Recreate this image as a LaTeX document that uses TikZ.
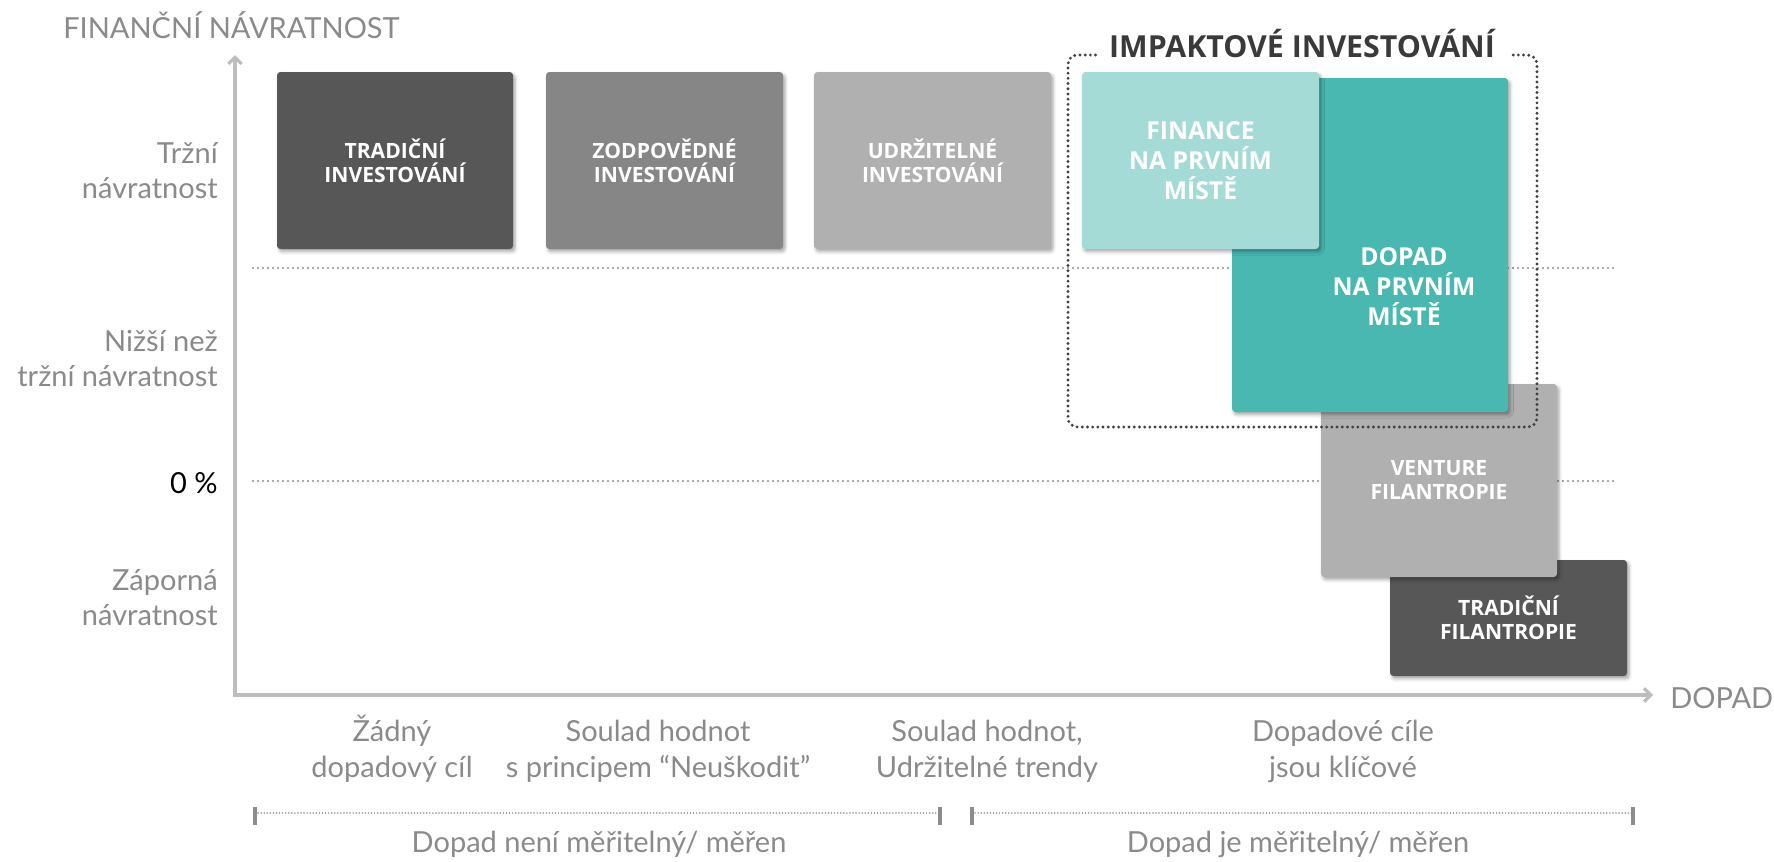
\documentclass[tikz,border=0pt]{standalone}
\usepackage{fontspec}
\setmainfont{Lato}
\newfontfamily\boxfont{Open Sans}
\usetikzlibrary{arrows.meta,shadows.blur}

\definecolor{darkbox}{HTML}{575757}
\definecolor{midbox}{HTML}{868686}
\definecolor{lightbox}{HTML}{B0B0B0}
\definecolor{finteal}{HTML}{A5DBD7}
\definecolor{impteal}{HTML}{48B8B1}
\definecolor{axisgray}{HTML}{BDBDBD}
\definecolor{labelgray}{HTML}{8A8A8A}
\definecolor{gridgray}{HTML}{8C8C8C}
\definecolor{framegray}{HTML}{404040}
\definecolor{titlegray}{HTML}{3A3A3A}

\begin{document}
\begin{tikzpicture}[x=0.75pt,y=-0.75pt,
  boxtext/.style={align=center, text=white, inner sep=0pt,
    font=\boxfont\bfseries\fontsize{15.8}{18}\selectfont},
  bigtext/.style={boxtext, font=\boxfont\bfseries\fontsize{18.5}{22.5}\selectfont},
  box/.style={boxtext, rectangle, rounded corners=2.5pt,
    blur shadow={shadow xshift=1.5pt, shadow yshift=-2pt, shadow blur radius=2.5pt, shadow opacity=35}},
  ylabel/.style={anchor=base east, align=right, inner sep=0pt, text=labelgray,
    font=\fontsize{21.75}{26.25}\selectfont},
  xlabel/.style={anchor=base, align=center, inner sep=0pt, text=labelgray,
    font=\fontsize{21.75}{27}\selectfont},
  axisline/.style={draw=axisgray, line width=2.5pt, {Straight Barb[length=5pt,width=10pt]}-{Straight Barb[length=5pt,width=10pt]}},
  gridline/.style={draw=gridgray, line width=1.7pt, line cap=round, dash pattern=on 0pt off 3.75pt},
  impframe/.style={draw=framegray, line width=2.4pt, line cap=round, dash pattern=on 0pt off 3.9pt, rounded corners=7pt},
  spanline/.style={draw=gridgray, line width=1.3pt, line cap=round, dash pattern=on 0pt off 2.3pt},
  tickmark/.style={draw=gridgray, line width=2.3pt}]
\useasboundingbox (0,0) rectangle (1774,861);

% axes
\coordinate (origin) at (235,695);
\coordinate (ytip) at (235,55);
\coordinate (xtip) at (1653,695);
\draw[axisline] (ytip) -- (origin) -- (xtip);
\node[anchor=base west, inner sep=0pt, text=labelgray, font=\fontsize{21.75}{26}\selectfont] (ytitle) at (63,38) {FINANČNÍ NÁVRATNOST};
\node[anchor=base west, inner sep=0pt, text=labelgray, font=\fontsize{21.75}{26}\selectfont] (xtitle) at (1670,708) {DOPAD};

% levels
\node[ylabel] (trzni) at (218,198) {Tržní\\návratnost};
\node[ylabel] (nizsi) at (218,386) {Nižší než\\tržní návratnost};
\node[ylabel, text=black] (nula) at (218,493) {0 \%};
\node[ylabel] (zaporna) at (218,625) {Záporná\\návratnost};

\coordinate (g1l) at (253,268);
\coordinate (g1r) at (1618,268);
\coordinate (g2l) at (253,481);
\coordinate (g2r) at (1616,481);
\draw[gridline] (g1l) -- (g1r);
\draw[gridline] (g2l) -- (g2r);

% boxes
\node[box, fill=darkbox, minimum width=177.75pt, minimum height=87pt] (tradfil) at (1508.5,618) {TRADIČNÍ\\FILANTROPIE};
\node[box, fill=lightbox, minimum width=177pt, minimum height=144.75pt] (venture) at (1439,480.5) {VENTURE\\FILANTROPIE};
\node[box, fill=impteal, minimum width=207pt, minimum height=250.5pt] (dopad) at (1370,245) {};
\node[bigtext] (dopadtext) at ([xshift=25.5pt,yshift=-31.5pt]dopad.center) {DOPAD\\NA PRVNÍM\\MÍSTĚ};
\node[box, font=\boxfont\bfseries\fontsize{18.5}{22.5}\selectfont, fill=finteal, minimum width=177.75pt, minimum height=132.75pt] (finance) at (1200.5,160.5) {FINANCE\\NA PRVNÍM\\MÍSTĚ};
\node[box, fill=darkbox, minimum width=177pt, minimum height=132.75pt] (tradinv) at (395,160.5) {TRADIČNÍ\\INVESTOVÁNÍ};
\node[box, fill=midbox, minimum width=177.75pt, minimum height=132.75pt] (zodpinv) at (664.5,160.5) {ZODPOVĚDNÉ\\INVESTOVÁNÍ};
\node[box, fill=lightbox, minimum width=177.75pt, minimum height=132.75pt] (udrzinv) at (932.5,160.5) {UDRŽITELNÉ\\INVESTOVÁNÍ};

% impact frame
\node[anchor=base, inner sep=0pt, inner xsep=10pt, text=titlegray, font=\boxfont\bfseries\fontsize{22.75}{26}\selectfont] (impakt) at (1302,57) {IMPAKTOVÉ INVESTOVÁNÍ};
\coordinate (fnw) at (1068,55);
\coordinate (fse) at (1537,427);
\draw[impframe] (impakt.west |- fnw) -- (fnw) -- (fnw |- fse) -- (fse) -- (fse |- fnw) -- (impakt.east |- fnw);

% impact scale
\node[xlabel] (zadny) at (392,777) {Žádný\\dopadový cíl};
\node[xlabel] (neuskodit) at (658,777) {Soulad hodnot\\s principem “Neuškodit”};
\node[xlabel] (trendy) at (987,777) {Soulad hodnot,\\Udržitelné trendy};
\node[xlabel] (klicove) at (1343,777) {Dopadové cíle\\jsou klíčové};

\coordinate (b1l) at (255,813);
\coordinate (b1r) at (940,813);
\coordinate (b2l) at (972,813);
\coordinate (b2r) at (1633,813);
\draw[spanline] (b1l) -- (b1r);
\draw[spanline] (b2l) -- (b2r);
\foreach \p in {b1l,b1r,b2l,b2r}
  \draw[tickmark] ([yshift=4.5pt]\p) -- ([yshift=-9pt]\p);

\node[xlabel] (neniměř) at (599,852) {Dopad není měřitelný/ měřen};
\node[xlabel] (jeměř) at (1298,852) {Dopad je měřitelný/ měřen};
\end{tikzpicture}
\end{document}
